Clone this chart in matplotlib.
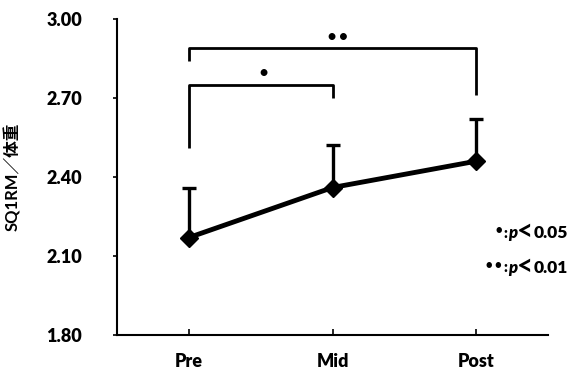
import numpy as np
import matplotlib.pyplot as plt

plt.rcParams['font.family'] = ['Lato', 'Noto Sans CJK JP', 'DejaVu Sans']

labels = ["Pre", "Mid", "Post"]
means = [2.17, 2.36, 2.46]
sd_up = [0.19, 0.16, 0.16]
yticks = [1.80, 2.10, 2.40, 2.70, 3.00]

fig = plt.figure(figsize=(5.81, 3.73), dpi=100)
ax = fig.add_axes([117 / 581, 38 / 373, 431 / 581, 316 / 373])

x = np.arange(len(labels))
ax.errorbar(x, means, yerr=[np.zeros(3), sd_up], fmt="none", ecolor="black",
            elinewidth=2.4, capsize=5, capthick=2.4, zorder=2)
ax.plot(x, means, color="black", lw=3.5, marker="D", ms=9, zorder=3)

# significance brackets
bk = dict(color="black", lw=2, solid_capstyle="butt")
ax.plot([0, 0, 2, 2], [2.84, 2.89, 2.89, 2.71], **bk)
ax.plot([0, 0, 1, 1], [2.51, 2.75, 2.75, 2.70], **bk)
ax.text(1.04, 2.935, "• •", ha="center", va="center", fontsize=10, fontweight="heavy")
ax.text(0.52, 2.795, "•", ha="center", va="center", fontsize=10, fontweight="heavy")

ax.set_xlim(-0.5, 2.5)
ax.set_ylim(1.80, 3.00)
ax.set_xticks(x)
ax.set_xticklabels(labels, fontsize=13, fontweight="heavy")
ax.set_yticks(yticks)
ax.set_yticklabels([f"{v:.2f}" for v in yticks], fontsize=13, fontweight="heavy")
ax.tick_params(axis="x", direction="in", length=4, width=1.2, pad=13)
ax.tick_params(axis="y", direction="out", length=3, width=1.2, pad=22)
for s in ["top", "right"]:
    ax.spines[s].set_visible(False)
for s in ["left", "bottom"]:
    ax.spines[s].set_linewidth(1.5)
ax.set_ylabel("SQ1RM／体重", fontsize=12, fontweight="bold", labelpad=18)

def legend_row(ypix, dots, thr):
    yf = 1 - ypix / 373
    fig.text(502 / 581, yf + 0.01, dots, fontsize=8, fontweight="heavy", va="center", ha="right")
    fig.text(503 / 581, yf, ":", fontsize=11, fontweight="heavy", va="center")
    fig.text(508 / 581, yf, "p", fontsize=12, fontweight="heavy", style="italic", va="center")
    fig.text(517 / 581, yf + 0.003, "<", fontsize=20, fontweight="bold", va="center")
    fig.text(534 / 581, yf, thr, fontsize=12.5, fontweight="heavy", va="center")

legend_row(233, "•", "0.05")
legend_row(268, "• •", "0.01")

fig.savefig("out.png", dpi=100)
